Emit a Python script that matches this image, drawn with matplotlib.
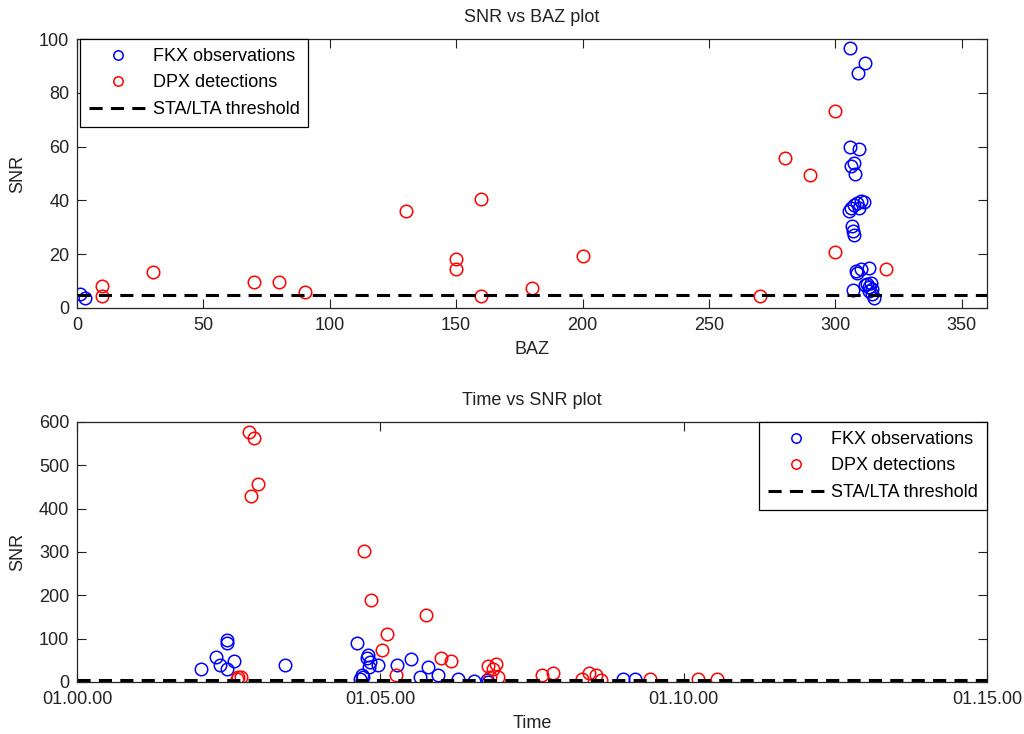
import matplotlib.pyplot as plt
import numpy as np

# SNR vs BAZ data
fkx_baz = [1.2, 3.2, 305.8, 311.6, 309.1, 305.7, 309.5, 307.3, 306.1, 307.7,
           310.0, 308.4, 307.3, 306.3, 305.3, 309.3, 311.3, 306.7, 307.1, 307.3,
           308.0, 310.0, 313.3, 308.5, 311.6, 312.7, 314.0, 313.3, 314.7,
           306.9, 313.3, 314.6, 315.3]
fkx_snr = [5.2, 3.7, 96.5, 91.0, 87.2, 60.0, 59.0, 53.8, 52.9, 49.7,
           39.8, 39.2, 38.3, 37.3, 36.1, 37.3, 39.5, 30.5, 28.6, 27.1,
           13.8, 14.4, 14.8, 13.0, 8.4, 9.0, 9.2, 7.8, 7.2,
           6.8, 6.3, 5.1, 3.8]
dpx_baz = [10, 10, 30, 70, 80, 90, 130, 150, 150, 160, 160, 180, 200,
           270, 280, 290, 300, 300, 320]
dpx_snr = [8.1, 4.5, 13.4, 9.6, 9.6, 5.9, 36.1, 18.4, 14.4, 40.5, 4.4, 7.4, 19.4,
           4.5, 55.7, 49.3, 73.4, 20.8, 14.5]

# Time vs SNR data (time = minutes after 01.00.00)
fkx_time = [2.468, 2.468, 2.292, 2.358, 2.589, 2.040, 2.478, 3.430,
            4.612, 4.803, 4.777, 4.831, 4.958, 4.819, 5.271, 5.507, 4.694, 4.721,
            4.666, 5.655, 5.792, 5.957, 6.287, 6.551, 6.755, 6.782, 8.998, 9.200]
fkx_tsnr = [97, 89, 58, 39, 49, 29, 29, 39,
            91, 62, 55, 47, 39, 35, 39, 52, 16, 11,
            6, 11, 35, 16, 8, 3, 5, 1, 6, 6]
dpx_time = [2.841, 2.923, 2.989, 2.864, 2.660, 2.699, 2.633,
            4.727, 4.852, 5.759, 5.116, 5.020, 5.260, 5.997, 6.171,
            6.782, 6.909, 6.864, 6.946, 6.810, 7.662, 7.843,
            8.322, 8.447, 8.557, 8.635, 9.448, 10.244, 10.557]
dpx_tsnr = [578, 562, 457, 429, 12, 12, 6,
            302, 189, 155, 111, 75, 16, 55, 48,
            37, 42, 29, 12, 12, 16, 20,
            6, 20, 16, 5, 6, 8, 6]

threshold = 5
time_ticks = [0, 5, 10, 15]
time_labels = ['01.00.00', '01.05.00', '01.10.00', '01.15.00']

plt.rcParams['font.family'] = ['Liberation Sans', 'DejaVu Sans']
plt.rcParams['font.size'] = 13
txt = '#222222'

fig = plt.figure(figsize=(10.24, 7.34), dpi=100)
ax1 = fig.add_axes([77/1024, 1-308/734, 910/1024, 269/734])
ax2 = fig.add_axes([77/1024, 1-682/734, 910/1024, 260/734])

def style(ax):
    ax.tick_params(direction='in', top=True, right=True, length=6.5, width=0.8,
                   pad=5.5, labelsize=13, colors=txt)
    ax.tick_params(axis='x', pad=6.5)
    for s in ax.spines.values():
        s.set_linewidth(0.9)
        s.set_color('#262626')

def draw(ax, xb, yb, xr, yr, xlim):
    ax.plot(xb, yb, 'o', mfc='none', mec='#0000ff', ms=9, mew=1.1, label='FKX observations')
    ax.plot(xr, yr, 'o', mfc='none', mec='#ff0000', ms=9, mew=1.1, label='DPX detections')
    ax.plot(xlim, [threshold, threshold], color='black', lw=2.2, dashes=(4.3, 2.7),
            label='STA/LTA threshold')

def add_legend(ax, loc, anchor):
    leg = ax.legend(loc=loc, bbox_to_anchor=anchor, borderaxespad=0,
                    fancybox=False, edgecolor='black', framealpha=1, fontsize=13,
                    handlelength=3.2, handletextpad=0.33, labelspacing=0.53,
                    borderpad=0.49, markerscale=0.75)
    leg.get_frame().set_linewidth(0.9)
    return leg

# top: SNR vs BAZ
draw(ax1, fkx_baz, fkx_snr, dpx_baz, dpx_snr, [0, 360])
ax1.set_xlim(0, 360)
ax1.set_ylim(0, 100)
ax1.set_xticks(np.arange(0, 351, 50))
ax1.set_yticks(np.arange(0, 101, 20))
ax1.set_title('SNR vs BAZ plot', fontsize=13, color=txt, pad=12.5)
ax1.set_xlabel('BAZ', color=txt, labelpad=5)
ax1.set_ylabel('SNR', color=txt, labelpad=9)
style(ax1)
add_legend(ax1, 'upper left', (3/910, 1.0))

# bottom: Time vs SNR
draw(ax2, fkx_time, fkx_tsnr, dpx_time, dpx_tsnr, [0, 15])
ax2.set_xlim(0, 15)
ax2.set_ylim(0, 600)
ax2.set_xticks(time_ticks)
ax2.set_xticklabels(time_labels)
ax2.set_yticks(np.arange(0, 601, 100))
ax2.set_title('Time vs SNR plot', fontsize=13, color=txt, pad=12.5)
ax2.set_xlabel('Time', color=txt, labelpad=5)
ax2.set_ylabel('SNR', color=txt, labelpad=9)
style(ax2)
add_legend(ax2, 'upper right', (1.0, 1.0))

plt.savefig('out.png', dpi=100)
